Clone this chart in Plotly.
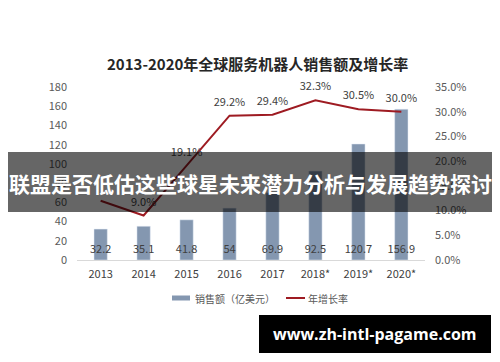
import plotly.graph_objects as go

years = ["2013", "2014", "2015", "2016", "2017", "2018*", "2019*", "2020*"]
sales = [32.2, 35.1, 41.8, 54, 69.9, 92.5, 120.7, 156.9]
sales_labels = ["32.2", "35.1", "41.8", "54", "69.9", "92.5", "120.7", "156.9"]
growth = [12.0, 9.0, 19.1, 29.2, 29.4, 32.3, 30.5, 30.0]
growth_labels = ["", "9.0%", "19.1%", "29.2%", "29.4%", "32.3%", "30.5%", "30.0%"]

W, H = 500, 362
L, R, T, B = 77, 75, 87, 102
PW, PH = W - L - R, H - T - B

def px(x):
    return (x - L) / PW

def py(y):
    return (H - B - y) / PH

CJK = "Noto Sans CJK SC"
BAR_C = "#8497b0"
LINE_C = "#9e1b22"
TXT = "#404040"

fig = go.Figure()
fig.add_trace(go.Bar(x=years, y=sales, marker_color=BAR_C, showlegend=False,
                     hoverinfo="skip"))
fig.add_trace(go.Scatter(x=years, y=[0] * len(years), mode="markers+text",
                         text=sales_labels, textposition="top center",
                         marker=dict(size=6, opacity=0), cliponaxis=False,
                         textfont=dict(family=CJK, size=11, color=TXT),
                         showlegend=False, hoverinfo="skip"))
fig.add_trace(go.Scatter(x=years, y=growth, yaxis="y2", mode="lines+markers+text",
                         text=growth_labels, textposition="top center",
                         line=dict(color=LINE_C, width=2),
                         marker=dict(size=10, opacity=0), cliponaxis=False,
                         textfont=dict(family=CJK, size=11, color=TXT),
                         showlegend=False, hoverinfo="skip"))

fig.update_layout(
    width=W, height=H,
    margin=dict(l=L, r=R, t=T, b=B, pad=0),
    paper_bgcolor="white", plot_bgcolor="white",
    bargap=0.69,
    xaxis=dict(type="category", showgrid=False, showline=True, linecolor="#d9d9d9",
               linewidth=1, ticks="", tickfont=dict(family=CJK, size=11, color=TXT),
               ticklabelstandoff=4),
    yaxis=dict(range=[0, 180], dtick=20, showgrid=False, zeroline=False,
               showline=False, ticks="", ticklabelstandoff=9,
               tickfont=dict(family=CJK, size=11, color="#595959")),
    yaxis2=dict(range=[0, 35], dtick=5, overlaying="y", side="right",
                showgrid=False, zeroline=False, showline=False, ticks="",
                tickformat=".1f", ticksuffix="%", ticklabelstandoff=9,
                tickfont=dict(family=CJK, size=11, color="#595959")),
    showlegend=False,
)

def ann(text, x, y, size, color, family=CJK, xanchor="center"):
    return dict(text=text, x=px(x), y=py(y), xref="paper", yref="paper",
                xanchor=xanchor, yanchor="middle", showarrow=False,
                font=dict(family=family, size=size, color=color))

annotations = [
    ann("<b>2013-2020年全球服务机器人销售额及增长率</b>", 257, 64, 15, "#262626"),
    ann("销售额（亿美元）", 193, 298, 10, "#595959", xanchor="left"),
    ann("年增长率", 306, 298, 10, "#595959", xanchor="left"),
    ann("<b>联盟是否低估这些球星未来潜力分析与发展趋势探讨</b>", 250, 183, 21, "white"),
    ann("<b>www.zh-intl-pagame.com</b>", 375, 334, 16, "white", family="Open Sans"),
]

shapes = [
    dict(type="rect", xref="paper", yref="paper", x0=px(172), x1=px(190),
         y0=py(295.5), y1=py(300.5), fillcolor=BAR_C, line=dict(width=0)),
    dict(type="line", xref="paper", yref="paper", x0=px(286), x1=px(305),
         y0=py(298), y1=py(298), line=dict(color=LINE_C, width=2)),
    dict(type="rect", xref="paper", yref="paper", x0=px(8), x1=px(492),
         y0=py(152), y1=py(212), fillcolor="rgba(0,0,0,0.6)", line=dict(width=0),
         layer="above"),
    dict(type="rect", xref="paper", yref="paper", x0=px(259), x1=px(491),
         y0=py(315), y1=py(353), fillcolor="black", line=dict(width=0),
         layer="above"),
]

fig.update_layout(annotations=annotations, shapes=shapes)
fig.write_html("out.html")
